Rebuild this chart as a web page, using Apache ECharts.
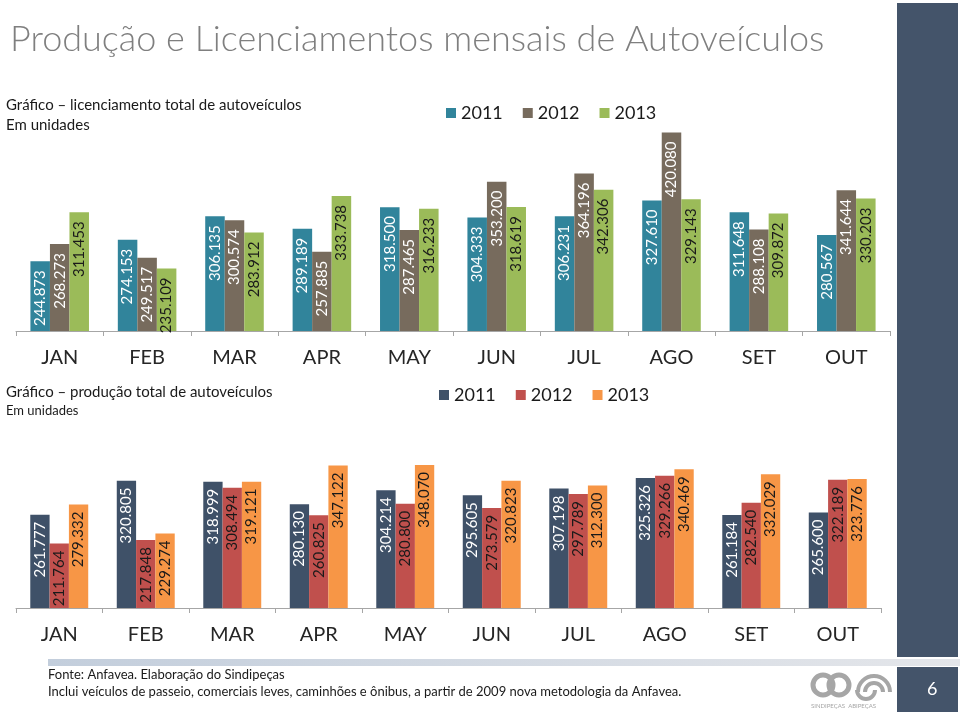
<!DOCTYPE html>
<html>
<head>
<meta charset="utf-8">
<script src="https://cdn.jsdelivr.net/npm/echarts@6/dist/echarts.min.js"></script>
<style>
html,body{margin:0;padding:0;background:#fff;}
#c{width:960px;height:717px;}
</style>
</head>
<body>
<div id="c"></div>
<script>
const months = ['JAN','FEB','MAR','APR','MAY','JUN','JUL','AGO','SET','OUT'];
const years = ['2011','2012','2013'];
const lic2011 = [244873, 274153, 306135, 289189, 318500, 304333, 306231, 327610, 311648, 280567];
const lic2012 = [268273, 249517, 300574, 257885, 287465, 353200, 364196, 420080, 288108, 341644];
const lic2013 = [311453, 235109, 283912, 333738, 316233, 318619, 342306, 329143, 309872, 330203];
const prod2011 = [261777, 320805, 318999, 280130, 304214, 295605, 307198, 325326, 261184, 265600];
const prod2012 = [211764, 217848, 308494, 260825, 280800, 273579, 297789, 329266, 282540, 322189];
const prod2013 = [279332, 229274, 319121, 347122, 348070, 320823, 312300, 340469, 332029, 323776];

const licColors = ['#31849B', '#776B5D', '#9BBB59'];
const licLabel = ['#ffffff', '#ffffff', '#1a1a1a'];
const prodColors = ['#3F5168', '#C0504D', '#F79646'];
const prodLabel = ['#ffffff', '#1a1a1a', '#1a1a1a'];
const FONT = 'Lato, "Open Sans", sans-serif';

const chart = echarts.init(document.getElementById('c'));

function fmt(p){ return (p.value/1000).toFixed(3); }

function mkSeries(data, idx, axis, colors, lcolors, dist){
  return {
    type:'bar', name: years[idx], data: data,
    xAxisIndex: axis, yAxisIndex: axis,
    barGap: '0%', barCategoryGap: '33%',
    itemStyle:{color: colors[idx]},
    label:{show:true, position:'insideTop', rotate:90, align:'right', verticalAlign:'middle',
      distance: dist, color: lcolors[idx], fontSize:15, fontFamily: FONT, formatter: fmt},
    emphasis:{disabled:true}, animation:false
  };
}

const axisCommon = {
  type:'category', data: months,
  axisLine:{lineStyle:{color:'#A6A6A6', width:1}},
  axisTick:{show:true, length:5, lineStyle:{color:'#A6A6A6'}},
  axisLabel:{color:'#262626', fontSize:20, fontFamily: FONT, margin:17}
};

const option = {
  animation:false,
  backgroundColor:'#ffffff',
  textStyle:{fontFamily: FONT},
  grid:[
    {left:16, right:70, top:110.5, height:220.5, containLabel:false},
    {left:16, right:79, top:435, height:173, containLabel:false}
  ],
  xAxis:[
    Object.assign({gridIndex:0}, axisCommon),
    Object.assign({gridIndex:1}, axisCommon)
  ],
  yAxis:[
    {gridIndex:0, type:'value', min:150000, max:450000, show:false, splitLine:{show:false}},
    {gridIndex:1, type:'value', min:100000, max:400000, show:false, splitLine:{show:false}}
  ],
  legend:[
    {left:446, top:104, padding:0, itemWidth:10, itemHeight:10, icon:'rect', itemGap:20,
     textStyle:{fontSize:18, color:'#1a1a1a', fontFamily: FONT}, selectedMode:false,
     data: years.map((y,i)=>({name:y, itemStyle:{color:licColors[i]}}))},
    {left:439, top:386, padding:0, itemWidth:10, itemHeight:10, icon:'rect', itemGap:20,
     textStyle:{fontSize:18, color:'#1a1a1a', fontFamily: FONT}, selectedMode:false,
     data: years.map((y,i)=>({name:y, itemStyle:{color:prodColors[i]}}))}
  ],
  series:[
    mkSeries(lic2011,0,0,licColors,licLabel,9),
    mkSeries(lic2012,1,0,licColors,licLabel,9),
    mkSeries(lic2013,2,0,licColors,licLabel,9),
    mkSeries(prod2011,0,1,prodColors,prodLabel,7),
    mkSeries(prod2012,1,1,prodColors,prodLabel,7),
    mkSeries(prod2013,2,1,prodColors,prodLabel,7)
  ],
  graphic:[
    {type:'rect', left:897, top:3, shape:{width:61, height:654}, style:{fill:'#44546A'}, z:0},
    {type:'rect', left:48, top:659, shape:{width:912, height:7},
      style:{fill:new echarts.graphic.LinearGradient(0,0,1,0,[{offset:0,color:'#C3CEDC'},{offset:1,color:'#E4E6EA'}])}, z:0},
    {type:'rect', left:897, top:667, shape:{width:61, height:45}, style:{fill:'#44546A'}, z:0},
    {type:'text', left:927, top:680, style:{text:'6', fill:'#ffffff', font:'18px '+FONT}},
    {type:'text', left:10, top:21, style:{text:'Produção e Licenciamentos mensais de Autoveículos', fill:'#7F7F7F', font:'300 36px '+FONT}},
    {type:'text', left:6, top:98, style:{text:'Gráfico – licenciamento total de autoveículos', fill:'#1a1a1a', font:'15px '+FONT}},
    {type:'text', left:6, top:118, style:{text:'Em unidades', fill:'#1a1a1a', font:'15px '+FONT}},
    {type:'text', left:6, top:385, style:{text:'Gráfico – produção total de autoveículos', fill:'#1a1a1a', font:'15px '+FONT}},
    {type:'text', left:6, top:404, style:{text:'Em unidades', fill:'#1a1a1a', font:'13px '+FONT}},
    {type:'text', left:48, top:668, style:{text:'Fonte: Anfavea. Elaboração do Sindipeças', fill:'#1a1a1a', font:'13px '+FONT}},
    {type:'text', left:48, top:685, style:{text:'Inclui veículos de passeio, comerciais leves, caminhões e ônibus, a partir de 2009 nova metodologia da Anfavea.', fill:'#1a1a1a', font:'13px '+FONT}},
    // logo approximation
    {type:'circle', shape:{cx:823, cy:685, r:10}, style:{fill:'none', stroke:'#A6A6A6', lineWidth:5}},
    {type:'circle', shape:{cx:839, cy:685, r:10}, style:{fill:'none', stroke:'#A6A6A6', lineWidth:5}},
    {type:'arc', shape:{cx:874, cy:692, r:16, startAngle:Math.PI, endAngle:Math.PI*2}, style:{fill:'none', stroke:'#A6A6A6', lineWidth:4}},
    {type:'arc', shape:{cx:874, cy:692, r:9, startAngle:Math.PI, endAngle:Math.PI*2}, style:{fill:'none', stroke:'#A6A6A6', lineWidth:4}},
    {type:'arc', shape:{cx:866, cy:690, r:9, startAngle:0, endAngle:Math.PI}, style:{fill:'none', stroke:'#A6A6A6', lineWidth:4}},
    {type:'text', left:811, top:703, style:{text:'SINDIPEÇAS  ABIPEÇAS', fill:'#A6A6A6', font:'6px '+FONT}}
  ]
};
chart.setOption(option);
</script>
</body>
</html>
